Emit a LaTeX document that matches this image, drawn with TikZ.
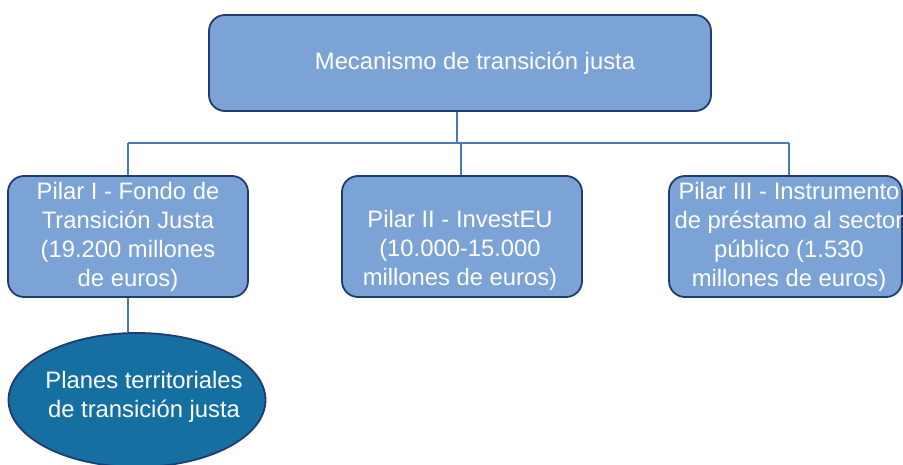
\documentclass[tikz,border=0pt]{standalone}
\usepackage{fontspec}
\setmainfont{Liberation Sans}
\usetikzlibrary{shapes.geometric}
\definecolor{boxfill}{HTML}{7BA3D6}
\definecolor{boxedge}{HTML}{1F3B6F}
\definecolor{linec}{HTML}{4A78BE}
\definecolor{ellfill}{HTML}{156FA0}
\tikzset{
  pbox/.style={draw=boxedge, line width=1.8pt, fill=boxfill, rounded corners=16pt, inner sep=0pt},
  ptext/.style={text=white, align=center, font=\fontsize{23.8}{29}\selectfont},
  conn/.style={draw=linec, line width=1.2pt},
}
\begin{document}
\begin{tikzpicture}[x=1pt,y=-1pt]
\useasboundingbox (0,0) rectangle (903,465);
\node[pbox, minimum width=502pt, minimum height=96pt] (top) at (460,63) {};
\node[ptext] (toptext) at (475,63) {Mecanismo de transición justa};
\node[pbox, minimum width=240pt, minimum height=121pt] (p1) at (128,236.5) {};
\node[ptext] (p1t) at (128,236.5) {Pilar I - Fondo de\\Transición Justa\\(19.200 millones\\de euros)};
\node[pbox, minimum width=240pt, minimum height=121pt] (p2) at (462,236.5) {};
\node[ptext] (p2t) at (460,250) {Pilar II - InvestEU\\(10.000-15.000\\millones de euros)};
\node[pbox, minimum width=233pt, minimum height=121pt] (p3) at (785.5,236.5) {};
\node[ptext] (p3t) at (789,236.5) {Pilar III - Instrumento\\de préstamo al sector\\público (1.530\\millones de euros)};
\node[ellipse, draw=boxedge, line width=1.8pt, fill=ellfill, minimum width=257pt, minimum height=134pt, inner sep=0pt] (ell) at (137,400) {};
\node[ptext] (ellt) at (144,397) {Planes territoriales\\de transición justa};
\coordinate (busL) at (128,143);
\coordinate (busR) at (789,143);
\draw[conn] (busL) -- (busR);
\draw[conn] (top.south -| 457,0) -- (457,143);
\draw[conn] (busL) -- (p1.north);
\draw[conn] (461,143) -- (p2.north -| 461,0);
\draw[conn] (busR) -- (p3.north -| busR);
\draw[conn] (p1.south) -- (ell.north -| p1.south);
\end{tikzpicture}
\end{document}
